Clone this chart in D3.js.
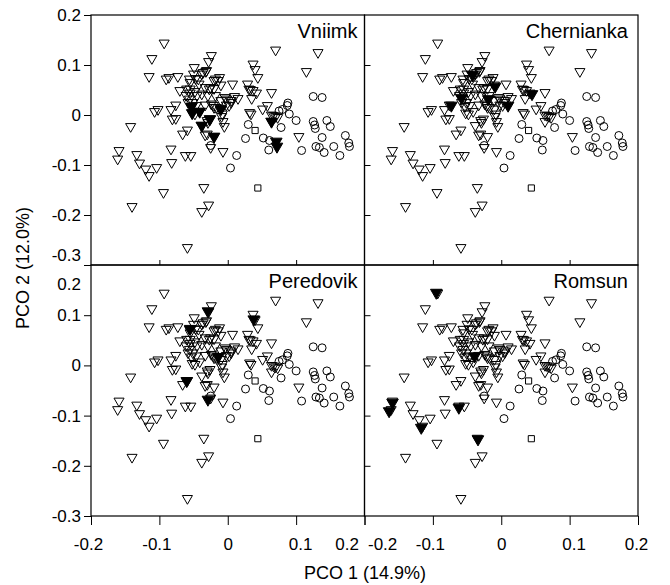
<!DOCTYPE html>
<html>
<head>
<meta charset="utf-8">
<script src="https://cdn.jsdelivr.net/npm/d3@7"></script>
<style>
  body { margin: 0; background: #fff; }
  svg { display: block; font-family: "Liberation Sans", Arial, Helvetica, sans-serif; }
</style>
</head>
<body>
<div id="chart"></div>
<script>
const panelNames = ["Vniimk", "Chernianka", "Peredovik", "Romsun"];
const xTicks = [-0.2, -0.1, 0, 0.1, 0.2];
const yTicks = [0.2, 0.1, 0, -0.1, -0.2, -0.3];

// open triangles (same in every panel)
const openTri = [
  [-0.093,0.144],[0.070,0.130],[0.132,0.125],[-0.111,0.113],[-0.024,0.119],[-0.028,0.107],
  [0.037,0.102],[0.040,0.091],[0.044,0.075],[0.115,0.087],[-0.049,0.095],[-0.032,0.087],[-0.036,0.085],
  [-0.115,0.077],[-0.090,0.072],[-0.086,0.075],[-0.073,0.077],[-0.056,0.072],[-0.050,0.082],[-0.043,0.072],
  [-0.018,0.072],[-0.012,0.075],[0.007,0.062],[0.029,0.062],[-0.070,0.049],[-0.055,0.052],[-0.033,0.055],
  [-0.025,0.055],[-0.010,0.060],[-0.061,0.039],[-0.038,0.042],[-0.018,0.039],[-0.004,0.035],[0.010,0.037],
  [0.015,0.033],[0.033,0.051],[0.042,0.044],[0.035,0.033],[0.064,0.045],[-0.076,0.020],[-0.102,0.011],
  [-0.107,0.007],[-0.083,0.011],[-0.058,0.025],[-0.033,0.020],[-0.021,0.019],[-0.002,0.020],[0.005,0.025],
  [0.051,0.012],[0.058,0.019],[0.034,0.002],[0.064,0.000],[0.070,-0.003],[-0.081,-0.008],[-0.076,-0.007],
  [-0.048,0.002],[-0.029,-0.015],[-0.009,-0.003],[-0.007,-0.013],[-0.005,-0.023],[-0.142,-0.023],
  [-0.066,-0.038],[-0.059,-0.030],[-0.033,-0.040],[-0.030,-0.038],[0.104,-0.043],[-0.025,-0.065],
  [-0.083,-0.068],[-0.007,-0.073],[-0.159,-0.071],[-0.161,-0.088],[-0.133,-0.079],[-0.129,-0.096],
  [-0.120,-0.108],[-0.115,-0.121],[-0.104,-0.105],[-0.082,-0.095],[-0.062,-0.081],[-0.054,-0.081],
  [-0.035,-0.145],[-0.094,-0.155],[-0.140,-0.183],[-0.028,-0.180],[-0.038,-0.193],[-0.059,-0.265],
  [-0.055,0.065],[-0.047,0.073],[-0.038,0.082],[-0.031,0.089],[-0.020,0.069],[-0.014,0.069],[0.031,0.052],
  [0.037,0.049],[-0.060,0.052],[-0.055,0.044],[-0.048,0.047],[-0.045,0.039],[-0.027,0.052],[-0.020,0.053],
  [-0.029,0.039],[-0.010,0.029],[-0.002,0.032],[0.005,0.029],[-0.056,0.032],[-0.051,0.025],[-0.046,0.019],
  [-0.024,0.022],[-0.020,0.015],[-0.017,0.015],[-0.008,0.002],[0.002,0.019],[0.032,0.005],[0.067,-0.001],
  [0.073,-0.005],[-0.030,-0.011],[-0.042,0.062],
  [-0.053,0.017],[-0.052,0.004],[-0.041,0.007],[-0.010,0.012],[-0.026,-0.008],[-0.038,-0.021],
  [-0.020,-0.043],[0.064,-0.013]
];

const circles = [
  [0.125,0.037],[0.138,0.035],[0.088,0.024],[0.087,0.019],[0.080,0.011],[0.090,0.002],[0.100,-0.011],
  [0.078,-0.025],[0.030,-0.019],[0.026,-0.047],[0.052,-0.046],[0.061,-0.051],[0.060,-0.070],[0.108,-0.071],
  [0.013,-0.081],[0.004,-0.106],[0.125,-0.013],[0.127,-0.020],[0.128,-0.027],[0.145,-0.011],[0.150,-0.023],
  [0.138,-0.045],[0.129,-0.063],[0.134,-0.065],[0.141,-0.075],[0.155,-0.063],[0.164,-0.081],[0.172,-0.041],
  [0.177,-0.056],[0.178,-0.063],[-0.025,-0.061],[0.075,0.008]
];

const squares = [[0.040,-0.031],[0.044,-0.146]];

// filled triangles, one list per panel
const filledVniimk = [[-0.053,0.017],[-0.052,0.004],[-0.041,0.007],[-0.010,0.012],[-0.026,-0.008],
  [-0.038,-0.021],[-0.020,-0.043],[0.064,-0.013],[0.071,-0.053],[0.072,-0.063]];
const filledChernianka = [[-0.042,0.080],[-0.009,0.057],[-0.019,0.032],[-0.058,0.034],[-0.073,0.019],
  [0.010,0.019],[0.045,0.042]];
const filledPeredovik = [[-0.029,0.108],[-0.055,0.073],[0.038,0.092],[-0.014,0.017],[-0.060,-0.031],
  [-0.029,-0.068]];
const filledRomsun = [[-0.095,0.145],[-0.039,0.018],[-0.159,-0.074],[-0.164,-0.091],[-0.117,-0.124],
  [-0.062,-0.084],[-0.034,-0.147]];
const filled = [filledVniimk, filledChernianka, filledPeredovik, filledRomsun];

const W = 670;
const H = 585;
const colX = [[91, 364.5], [364.5, 638]];
const rowY = [[265, 15], [516, 265]];

const fmt = d => d === 0 ? "0" : String(d);

const svg = d3.select("#chart").append("svg").attr("width", W).attr("height", H);

const triOpen = d3.symbol().type(d3.symbolTriangle).size(44);
const triFull = d3.symbol().type(d3.symbolTriangle).size(58);
const circ = d3.symbol().type(d3.symbolCircle).size(50);
const sq = d3.symbol().type(d3.symbolSquare).size(38);

function styleAxis(g) {
  g.attr("font-size", null).attr("font-family", null);
  g.select(".domain").remove();
  g.selectAll("line").attr("stroke", "#000");
  g.selectAll("text").attr("font-size", 17).attr("fill", "#000");
}

panelNames.forEach((name, i) => {
  const col = i % 2;
  const row = Math.floor(i / 2);
  const x = d3.scaleLinear().domain([-0.2, 0.2]).range(colX[col]);
  const y = d3.scaleLinear().domain([-0.3, 0.2]).range(rowY[row]);

  const g = svg.append("g");

  // Rahmen
  g.append("rect")
    .attr("x", x(-0.2)).attr("y", y(0.2))
    .attr("width", x(0.2) - x(-0.2)).attr("height", y(-0.3) - y(0.2))
    .attr("fill", "none").attr("stroke", "#000").attr("stroke-width", 1.2);

  // Achsen
  if (col === 0) {
    const ay = g.append("g")
      .attr("transform", `translate(${x(-0.2)},0)`)
      .call(d3.axisLeft(y).tickValues(yTicks).tickSize(7).tickPadding(3).tickFormat(fmt))
      .call(styleAxis);
    ay.selectAll(".tick text")
      .attr("transform", d => {
        if (row === 0 && d === -0.3) return "translate(0,-10)";
        if (row === 1 && d === 0.2) return "translate(0,19)";
        return null;
      });
  } else {
    g.append("g")
      .attr("transform", `translate(${x(-0.2)},0)`)
      .call(d3.axisRight(y).tickValues([0.1, 0, -0.1, -0.2]).tickSize(6).tickFormat(""))
      .call(styleAxis);
  }

  if (row === 0) {
    g.append("g")
      .attr("transform", `translate(0,${y(-0.3)})`)
      .call(d3.axisTop(x).tickValues([-0.1, 0, 0.1]).tickSize(5).tickFormat(""))
      .call(styleAxis);
  } else {
    const ax = g.append("g")
      .attr("transform", `translate(0,${y(-0.3)})`)
      .call(d3.axisBottom(x).tickValues(xTicks).tickSize(9).tickPadding(13).tickFormat(fmt))
      .call(styleAxis);
    ax.selectAll(".tick text")
      .attr("text-anchor", d => {
        if (col === 0 && d === 0.2) return "end";
        if (col === 1 && d === -0.2) return "start";
        return "middle";
      })
      .attr("dx", d => {
        if (col === 0 && d === 0.2) return -6;
        if (col === 1 && d === -0.2) return 3;
        if (col === 0 && d === -0.2) return -3;
        if (col === 1 && d === 0.2) return -2;
        if (d === -0.1) return -3;
        if (d === 0.1) return 4;
        return 0;
      });
  }

  // Punkte
  g.append("g").selectAll("path")
    .data(circles)
    .join("path")
    .attr("transform", d => `translate(${x(d[0])},${y(d[1])})`)
    .attr("d", circ)
    .attr("fill", "none").attr("stroke", "#000").attr("stroke-width", 1);

  g.append("g").selectAll("path")
    .data(squares)
    .join("path")
    .attr("transform", d => `translate(${x(d[0])},${y(d[1])})`)
    .attr("d", sq)
    .attr("fill", "none").attr("stroke", "#000").attr("stroke-width", 1);

  g.append("g").selectAll("path")
    .data(openTri)
    .join("path")
    .attr("transform", d => `translate(${x(d[0])},${y(d[1])}) rotate(180)`)
    .attr("d", triOpen)
    .attr("fill", "none").attr("stroke", "#000").attr("stroke-width", 1);

  g.append("g").selectAll("path")
    .data(filled[i])
    .join("path")
    .attr("transform", d => `translate(${x(d[0])},${y(d[1])}) rotate(180)`)
    .attr("d", triFull)
    .attr("fill", "#000").attr("stroke", "#000").attr("stroke-width", 1);

  // Name
  g.append("text")
    .attr("x", x(0.2) - (col === 0 ? 7 : 10))
    .attr("y", y(0.2) + 23)
    .attr("text-anchor", "end")
    .attr("font-size", 20)
    .text(name);
});

// Achsentitel
svg.append("text")
  .attr("x", 365)
  .attr("y", 579)
  .attr("text-anchor", "middle")
  .attr("font-size", 18)
  .text("PCO 1 (14.9%)");

svg.append("text")
  .attr("transform", "translate(29,268) rotate(-90)")
  .attr("text-anchor", "middle")
  .attr("font-size", 18)
  .text("PCO 2 (12.0%)");
</script>
</body>
</html>
